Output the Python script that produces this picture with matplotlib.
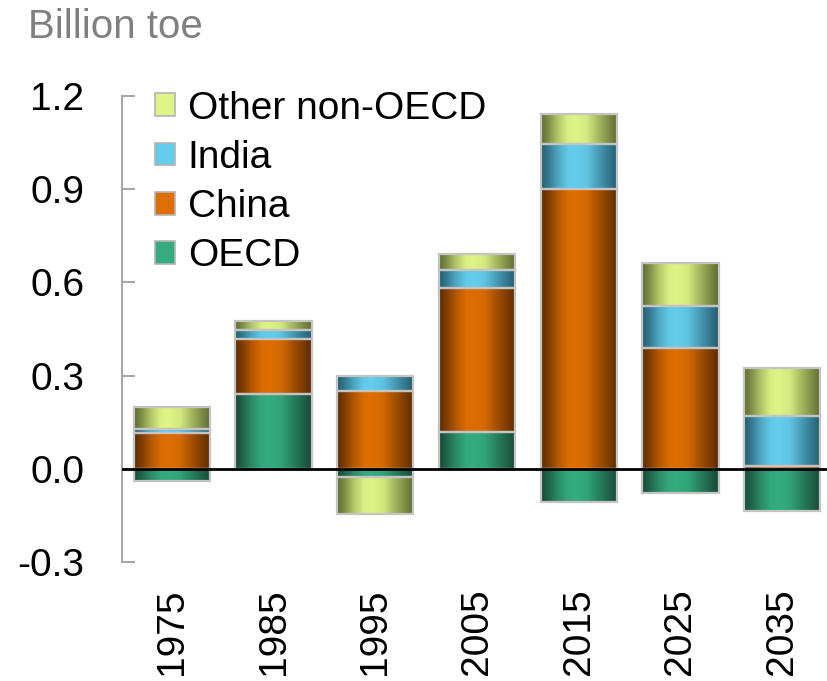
import numpy as np
import matplotlib.pyplot as plt
from matplotlib.colors import LinearSegmentedColormap
from matplotlib.patches import Patch

plt.rcParams['font.family'] = ['Liberation Sans', 'DejaVu Sans']

years = ['1975', '1985', '1995', '2005', '2015', '2025', '2035']
oecd = [-0.04, 0.24, -0.025, 0.12, -0.106, -0.077, -0.135]
china = [0.115, 0.177, 0.25, 0.463, 0.90, 0.389, 0.008]
india = [0.013, 0.03, 0.05, 0.058, 0.145, 0.135, 0.162]
other = [0.07, 0.03, -0.12, 0.049, 0.096, 0.139, 0.155]

series = [
    ('OECD', oecd, '#153f2e', '#34ab80'),
    ('China', china, '#4e2400', '#de6e02'),
    ('India', india, '#1c4f60', '#64cdec'),
    ('Other non-OECD', other, '#4f5a26', '#def486'),
]

fig = plt.figure(figsize=(8.28, 6.81), dpi=100)
ax = fig.add_axes([122 / 828, (681 - 562) / 681, 1 - 122 / 828, (562 - 96) / 681])

x = np.arange(len(years))
width = 0.75
pos_base = np.zeros(len(years))
neg_base = np.zeros(len(years))

# horizontal shading across each bar: dark edges, bright band near the centre
t = np.linspace(0, 1, 300)
stops_t = [0.0, 0.10, 0.22, 0.35, 0.45, 0.60, 0.75, 0.90, 1.0]
stops_v = [0.10, 0.35, 0.70, 0.97, 1.0, 0.92, 0.60, 0.30, 0.10]
profile = np.interp(t, stops_t, stops_v)
grad = np.repeat(profile[np.newaxis, :], 2, axis=0)

for name, vals, dark, light in series:
    vals = np.asarray(vals)
    bottoms = np.where(vals >= 0, pos_base, neg_base)
    bars = ax.bar(x, vals, width, bottom=bottoms, facecolor='none',
                  edgecolor='#c4c4c4', linewidth=1.6, zorder=3)
    cmap = LinearSegmentedColormap.from_list(name, [dark, light])
    for r in bars:
        x0, y0 = r.get_x(), r.get_y()
        x1, y1 = x0 + r.get_width(), y0 + r.get_height()
        ax.imshow(grad, extent=(x0, x1, min(y0, y1), max(y0, y1)),
                  aspect='auto', cmap=cmap, vmin=0, vmax=1,
                  interpolation='bilinear', zorder=2)
    pos_base = pos_base + np.where(vals >= 0, vals, 0)
    neg_base = neg_base + np.where(vals < 0, vals, 0)

ax.axhline(0, color='black', linewidth=2, zorder=4)

ax.set_xlim(-0.49, 6.45)
ax.set_ylim(-0.3, 1.2)
ax.set_yticks([-0.3, 0.0, 0.3, 0.6, 0.9, 1.2])
ax.set_yticklabels(['-0.3', '0.0', '0.3', '0.6', '0.9', '1.2'])
ax.set_xticks(x)
ax.set_xticklabels(years, rotation=90)

for s in ['top', 'right', 'bottom']:
    ax.spines[s].set_visible(False)
ax.spines['left'].set_color('#a8a8a8')
ax.spines['left'].set_linewidth(1.5)
ax.tick_params(axis='y', direction='in', length=9, width=1.5, color='#a8a8a8',
               labelsize=28, pad=27)
ax.tick_params(axis='x', length=0, labelsize=28, pad=19)

handles = [Patch(facecolor=light, edgecolor='#b4b4b4', linewidth=1.2, label=name)
           for name, vals, dark, light in series[::-1]]
ax.legend(handles=handles, loc='upper left', bbox_to_anchor=(0.025, 1.045),
          frameon=False, fontsize=28, handlelength=0.52, handleheight=0.52,
          handletextpad=0.32, labelspacing=0.34, borderaxespad=0)

fig.text(28 / 828, 1 - 27 / 681, 'Billion toe', fontsize=29, color='#808080',
         ha='left', va='center')

fig.savefig('out.png', dpi=100)
